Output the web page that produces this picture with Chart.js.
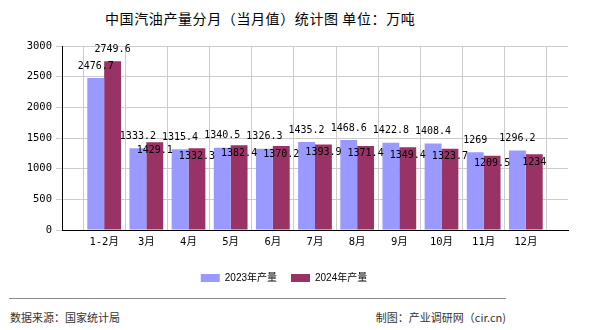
<!DOCTYPE html>
<html>
<head>
<meta charset="utf-8">
<script src="https://cdn.jsdelivr.net/npm/chart.js@4"></script>
<style>
  body { margin: 0; background: #fff; width: 590px; height: 330px; position: relative; overflow: hidden; }
  .title { position: absolute; top: 8px; left: 105px; font: 14px "Noto Sans CJK SC", sans-serif; letter-spacing: 0.6px; color: #000; white-space: nowrap; }
  .rule { position: absolute; top: 298px; left: 9px; width: 497px; height: 1px; background: #888; }
  .src, .by { position: absolute; top: 309px; font: 11px "Noto Sans CJK SC", sans-serif; color: #333; white-space: nowrap; }
  .src { left: 10px; }
  .by { right: 84px; }
  #myChart { position: absolute; left: 0; top: 0; }
</style>
</head>
<body>
<div class="title">中国汽油产量分月（当月值）统计图 单位：万吨</div>
<canvas id="myChart" width="590" height="293"></canvas>
<div class="rule"></div>
<div class="src">数据来源：国家统计局</div>
<div class="by">制图：产业调研网（cir.cn)</div>
<script>
const months = ["1-2月", "3月", "4月", "5月", "6月", "7月", "8月", "9月", "10月", "11月", "12月"];
const output2023 = [2476.7, 1333.2, 1315.4, 1340.5, 1326.3, 1435.2, 1468.6, 1422.8, 1408.4, 1269, 1296.2];
const output2024 = [2749.6, 1429.1, 1332.3, 1382.4, 1370.2, 1393.9, 1371.4, 1349.4, 1323.7, 1209.5, 1234];
const yTicks = [0, 500, 1000, 1500, 2000, 2500, 3000];

// empty slot on each side of the months
const labels = [""].concat(months, [""]);
const pad = (arr) => [null].concat(arr, [null]);

const labelFont = "10px 'DejaVu Sans Mono', 'Noto Sans CJK SC', monospace";

// value labels; 2024 label drops under the bar top when it would hit the 2023 one
const valueLabels = {
  id: "valueLabels",
  afterDatasetsDraw(chart) {
    const ctx = chart.ctx;
    ctx.save();
    ctx.font = labelFont;
    ctx.fillStyle = "#000";
    ctx.textAlign = "center";
    ctx.textBaseline = "middle";
    const m0 = chart.getDatasetMeta(0);
    const m1 = chart.getDatasetMeta(1);
    chart.data.labels.forEach((lab, i) => {
      const v0 = chart.data.datasets[0].data[i];
      const v1 = chart.data.datasets[1].data[i];
      if (v0 == null) return;
      const b0 = m0.data[i], b1 = m1.data[i];
      const t0 = String(v0), t1 = String(v1);
      const y0 = b0.y - 12;
      ctx.fillText(t0, b0.x, y0);
      let y1 = b1.y - 12;
      const w0 = ctx.measureText(t0).width, w1 = ctx.measureText(t1).width;
      const overlapX = b0.x + w0 / 2 > b1.x - w1 / 2;
      const overlapY = Math.abs(y1 - y0) < 11;
      if (overlapX && overlapY) y1 = b1.y + 8;
      ctx.fillText(t1, b1.x, y1);
    });
    ctx.restore();
  },
};

new Chart(document.getElementById("myChart"), {
  type: "bar",
  data: {
    labels: labels,
    datasets: [
      {
        label: "2023年产量",
        data: pad(output2023),
        backgroundColor: "#9999ff",
        borderWidth: 0,
      },
      {
        label: "2024年产量",
        data: pad(output2024),
        backgroundColor: "#993366",
        borderWidth: 0,
      },
    ],
  },
  options: {
    responsive: false,
    animation: false,
    events: [],
    categoryPercentage: 0.8,
    barPercentage: 1.0,
    layout: { padding: { top: 46, right: 22, bottom: 0, left: 0 } },
    scales: {
      x: {
        offset: false,
        grid: { color: "#cccccc", drawTicks: false },
        border: { color: "#000", width: 1 },
        ticks: {
          color: "#000",
          font: { size: 10.5, family: "'DejaVu Sans Mono', 'Noto Sans CJK SC', monospace" },
          padding: 6,
          autoSkip: false,
          maxRotation: 0,
        },
        afterFit: (s) => { s.height = 29; },
      },
      y: {
        min: 0,
        max: 3000,
        afterBuildTicks: (s) => { s.ticks = yTicks.map((v) => ({ value: v })); },
        grid: { color: "#cccccc", tickLength: 6 },
        border: { color: "#000", width: 1 },
        ticks: {
          color: "#000",
          font: { size: 10.5, family: "'DejaVu Sans Mono', monospace" },
          padding: 4,
          callback: (v) => String(v),
        },
        afterFit: (s) => { s.width = 62; },
      },
    },
    plugins: {
      legend: {
        position: "bottom",
        labels: {
          boxWidth: 19,
          boxHeight: 8,
          padding: 14,
          color: "#000",
          font: { size: 10, family: "'Liberation Sans', 'Noto Sans CJK SC', sans-serif" },
        },
      },
      title: { display: false },
      tooltip: { enabled: false },
    },
  },
  plugins: [valueLabels],
});
</script>
</body>
</html>
